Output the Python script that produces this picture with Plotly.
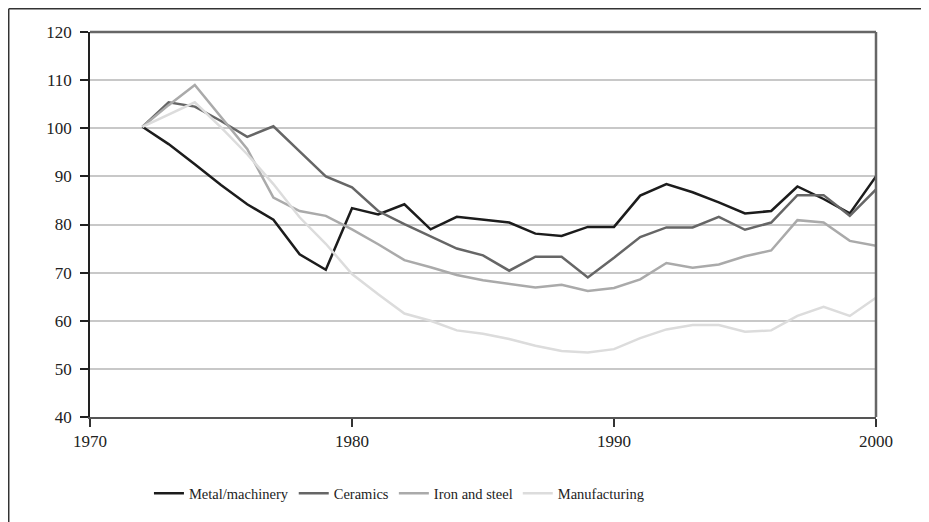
import plotly.graph_objects as go

years = list(range(1972, 2001))

metal_machinery = [100.3, 96.7, 92.5, 88.2, 84.2, 81.0, 73.8, 70.6, 83.4, 82.1,
                   84.2, 79.0, 81.6, 81.0, 80.4, 78.1, 77.6, 79.5, 79.5, 86.0,
                   88.4, 86.7, 84.6, 82.3, 82.8, 87.9, 85.3, 82.3, 90.0]
ceramics = [100.3, 105.4, 104.5, 101.5, 98.2, 100.4, 95.2, 90.0, 87.7, 82.8,
            80.1, 77.5, 75.0, 73.6, 70.4, 73.3, 73.3, 69.0, 73.1, 77.4,
            79.4, 79.4, 81.6, 78.9, 80.4, 86.1, 86.1, 81.8, 87.3]
iron_steel = [100.3, 104.8, 109.0, 102.3, 95.7, 85.6, 82.8, 81.8, 79.0, 75.9,
              72.6, 71.1, 69.5, 68.4, 67.6, 66.9, 67.5, 66.2, 66.8, 68.6,
              72.0, 71.0, 71.7, 73.4, 74.6, 80.9, 80.4, 76.6, 75.6]
manufacturing = [100.3, 102.9, 105.4, 100.2, 94.6, 88.4, 81.5, 76.0, 69.7, 65.5,
                 61.5, 60.0, 58.0, 57.3, 56.2, 54.8, 53.7, 53.4, 54.1, 56.4,
                 58.2, 59.1, 59.1, 57.7, 58.0, 61.0, 62.9, 61.0, 64.8]

series = [
    ("Metal/machinery", metal_machinery, "#1c1c1c"),
    ("Ceramics", ceramics, "#666666"),
    ("Iron and steel", iron_steel, "#aaaaaa"),
    ("Manufacturing", manufacturing, "#dcdcdc"),
]

fig = go.Figure()
for name, vals, col in series:
    fig.add_trace(go.Scatter(x=years, y=vals, name=name, mode="lines",
                             line=dict(color=col, width=2.5)))

font_family = "Liberation Serif, Times New Roman, serif"

fig.update_layout(
    width=929, height=522,
    margin=dict(l=82, r=61, t=24, b=113),
    paper_bgcolor="white", plot_bgcolor="white",
    font=dict(family=font_family, size=17, color="#222"),
    showlegend=True,
    legend=dict(orientation="h", x=0.075, xanchor="left", y=-0.198, yanchor="middle",
                font=dict(size=14.5, color="#222"), itemwidth=30, tracegroupgap=0,
                bgcolor="rgba(0,0,0,0)"),
    xaxis=dict(range=[1970, 2000], tickmode="linear", tick0=1970, dtick=10,
               showgrid=False, zeroline=False, showline=True, linecolor="#555",
               linewidth=2, ticks="outside", ticklen=8, tickcolor="#333", tickwidth=1.5,
               ticklabelstandoff=0),
    yaxis=dict(range=[40, 120], tickmode="linear", tick0=40, dtick=10,
               showgrid=True, gridcolor="#c8c8c8", gridwidth=1.5, zeroline=False,
               showline=True, linecolor="#222", linewidth=1.5, ticks="outside",
               ticklen=8, tickcolor="#222", tickwidth=1.5, ticklabelstandoff=5),
)

# plot frame: top and right edges
fig.add_shape(type="line", xref="paper", yref="paper", x0=0, x1=1, y0=1, y1=1,
              line=dict(color="#666", width=2.5))
fig.add_shape(type="line", xref="paper", yref="paper", x0=1, x1=1, y0=0, y1=1,
              line=dict(color="#666", width=2.5))
# outer figure border: top and left
fig.add_shape(type="line", xref="paper", yref="paper", x0=-0.1034, x1=1.08,
              y0=1.0604, y1=1.0604, line=dict(color="#333", width=1.5))
fig.add_shape(type="line", xref="paper", yref="paper", x0=-0.1034, x1=-0.1034,
              y0=1.0604, y1=-0.30, line=dict(color="#333", width=1.5))

fig.write_html("out.html")
